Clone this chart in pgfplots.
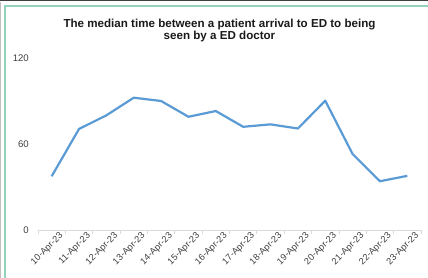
\documentclass[border=0pt]{standalone}
\usepackage{pgfplots}
\pgfplotsset{compat=1.18}
\usepackage{fontspec}
\setmainfont{Liberation Sans}
\definecolor{frame}{HTML}{93D3BA}
\definecolor{line}{HTML}{5B9BD5}
\definecolor{grid}{HTML}{D9D9D9}
\definecolor{lbl}{HTML}{404040}
\definecolor{ttl}{HTML}{1A1A1A}
\begin{document}
\begin{tikzpicture}
\useasboundingbox (0pt,0pt) rectangle (428pt,278pt);
\fill[white] (0pt,0pt) rectangle (428pt,278pt);
\draw[line width=1.2pt, black!75] (0pt,277.6pt) -- (428pt,277.6pt);
\draw[line width=0.8pt, black!25] (0.4pt,0pt) -- (0.4pt,276pt);
\draw[line width=2pt, frame] (5pt,-5pt) -- (5pt,272pt) -- (440pt,272pt);
\node[font=\bfseries\fontsize{11.6}{13}\selectfont, text=ttl, anchor=base, inner sep=0pt] at (219.5pt,250.7pt)
  {The median time between a patient arrival to ED to being};
\node[font=\bfseries\fontsize{11.6}{13}\selectfont, text=ttl, anchor=base, inner sep=0pt] at (219.5pt,238.6pt)
  {seen by a ED doctor};
\begin{axis}[
  at={(38pt,48pt)}, anchor=south west,
  width=383pt, height=172pt, scale only axis,
  xmin=-0.5, xmax=13.5, ymin=0, ymax=120,
  axis y line=none,
  axis x line*=bottom,
  x axis line style={grid, line width=0.8pt, -},
  ytick={0,60,120},
  yticklabels={},
  xmajorgrids=false, xminorgrids=false,
  ymajorgrids,
  grid style={grid, line width=0.8pt},
  xtick={0,...,13},
  xticklabels={10-Apr-23,11-Apr-23,12-Apr-23,13-Apr-23,14-Apr-23,15-Apr-23,16-Apr-23,17-Apr-23,18-Apr-23,19-Apr-23,20-Apr-23,21-Apr-23,22-Apr-23,23-Apr-23},
  major tick length=0pt,
  minor xtick={-0.5,0.5,...,13.5},
  minor x tick style={grid, line width=0.8pt},
  minor tick length=4pt,
  tick align=outside,
  xticklabel style={rotate=45, anchor=north east, font=\fontsize{9.2}{11}\selectfont, text=lbl, xshift=5pt, yshift=-5pt, inner sep=1pt},
  clip=false,
]
\addplot[line, line width=2.2pt, line join=round] coordinates {
(0,37.5) (1,70.5) (2,80) (3,92.3) (4,90) (5,79) (6,83) (7,72) (8,73.7) (9,70.8) (10,90.2) (11,53) (12,34) (13,37.8)
};
\end{axis}
\foreach \v/\y in {0/48,60/134,120/220} {
  \node[anchor=east, font=\fontsize{9.6}{11}\selectfont, text=lbl, inner sep=0pt] at (29pt,\y pt) {\v};
}
\end{tikzpicture}
\end{document}
